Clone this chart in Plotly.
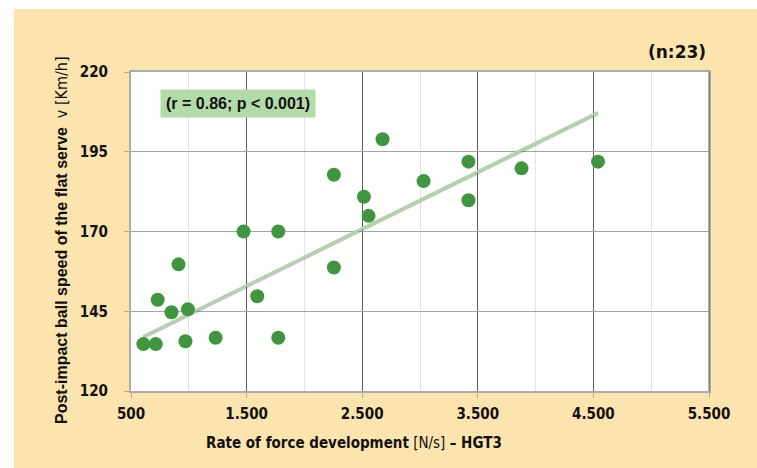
import plotly.graph_objects as go

# Rate of force development (N/s) and post-impact ball speed (km/h)
rfd = [607, 714, 731, 850, 911, 971, 992, 1232, 1474, 1592, 1774, 1774,
       2255, 2255, 2515, 2555, 2676, 3031, 3419, 3419, 3878, 4540]
speed = [134.7, 134.7, 148.6, 144.7, 159.7, 135.6, 145.6, 136.7, 170.0, 149.7, 170.0, 136.7,
         187.8, 158.7, 180.9, 174.9, 198.9, 185.8, 191.9, 179.8, 189.8, 191.9]

# Linear trend line end points
trend_x = [607, 4540]
trend_y = [137.2, 207.4]

x_tickvals = [500, 1500, 2500, 3500, 4500, 5500]
x_ticktext = ["500", "1.500", "2.500", "3.500", "4.500", "5.500"]
x_minor = [1000, 2000, 3000, 4000, 5000]
y_tickvals = [120, 145, 170, 195, 220]
y_ticktext = ["120", "145", "170", "195", "220"]

stat_text = "(r = 0.86; p < 0.001)"
n_text = "(n:23)"

BG = "#FCE4AE"
GREEN = "#3f963f"
NARROW = "Liberation Sans Narrow, Arial Narrow, DejaVu Sans Condensed, sans-serif"
ARIAL = "Liberation Sans, Arial, sans-serif"

fig = go.Figure()

# soft shadow under the trend line
fig.add_trace(go.Scatter(
    x=trend_x, y=[v - 0.45 for v in trend_y], mode="lines",
    line=dict(color="rgba(90,90,90,0.35)", width=3),
    hoverinfo="skip", showlegend=False))
fig.add_trace(go.Scatter(
    x=trend_x, y=trend_y, mode="lines",
    line=dict(color="#acd6a3", width=2.6),
    hoverinfo="skip", showlegend=False))
fig.add_trace(go.Scatter(
    x=rfd, y=speed, mode="markers",
    marker=dict(color=GREEN, size=14, line=dict(width=0)),
    showlegend=False))

tick_font = dict(family=NARROW, size=15, color="#111111", weight="bold")

fig.update_layout(
    width=757, height=468,
    margin=dict(l=131, r=48, t=72, b=77),
    paper_bgcolor=BG, plot_bgcolor="white",
    showlegend=False,
    xaxis=dict(
        range=[500, 5500], tickmode="array",
        tickvals=x_tickvals, ticktext=x_ticktext,
        showgrid=True, gridcolor="#5c5c5c", gridwidth=1,
        minor=dict(tickmode="array", tickvals=x_minor, showgrid=True,
                   gridcolor="#e2e2e2", gridwidth=1, ticks=""),
        showline=True, linecolor="#ababab", linewidth=2, mirror=True,
        ticks="outside", ticklen=5, tickcolor="#ababab", tickwidth=1,
        tickfont=tick_font, ticklabelstandoff=3,
        zeroline=False, fixedrange=True,
    ),
    yaxis=dict(
        range=[120, 220], tickmode="array",
        tickvals=y_tickvals, ticktext=y_ticktext,
        showgrid=True, gridcolor="#a3a3a3", gridwidth=1.3,
        showline=True, linecolor="#ababab", linewidth=2, mirror=True,
        ticks="outside", ticklen=5, tickcolor="#ababab", tickwidth=1,
        tickfont=tick_font,
        ticklabelstandoff=13,
        zeroline=False, fixedrange=True,
    ),
    shapes=[
        # white strips framing the coloured panel
        dict(type="rect", xref="paper", yref="paper",
             x0=-0.3, x1=(14 - 131) / 578, y0=-0.5, y1=1.5,
             fillcolor="white", line=dict(width=0), layer="below"),
        dict(type="rect", xref="paper", yref="paper",
             x0=-0.3, x1=1.5, y0=(391 - 9) / 319, y1=1.5,
             fillcolor="white", line=dict(width=0), layer="below"),
        # right border coincides with a major grid line
        dict(type="line", xref="paper", yref="paper", x0=1, x1=1, y0=0, y1=1,
             line=dict(color="#5c5c5c", width=1)),
    ],
    annotations=[
        dict(x=1425, y=210.2, xref="x", yref="y", text="<b>" + stat_text + "</b>",
             showarrow=False, bgcolor="#b3dba8", borderpad=5,
             xanchor="center", yanchor="middle",
             font=dict(family=ARIAL, size=16, color="#111111")),
        dict(x=(677 - 131) / 578, y=(391 - 52) / 319, xref="paper", yref="paper",
             text="<b>" + n_text + "</b>", showarrow=False,
             xanchor="center", yanchor="middle",
             font=dict(family="DejaVu Sans", size=17, color="#111111")),
        dict(x=(353.5 - 131) / 578, y=(391 - 443) / 319, xref="paper", yref="paper",
             text="<b>Rate of force development</b> [N/s] <b>– HGT3</b>",
             showarrow=False, xanchor="center", yanchor="middle",
             font=dict(family=NARROW, size=15, color="#111111")),
        dict(x=(61 - 131) / 578, y=(391 - 240) / 319, xref="paper", yref="paper",
             text="<b>Post-impact ball speed of the flat serve</b>  "
                  "<span style='font-family:" + NARROW + "'>v [Km/h]</span>",
             textangle=-90, showarrow=False, xanchor="center", yanchor="middle",
             font=dict(family=ARIAL, size=16, color="#111111")),
    ],
)

fig.write_html("out.html")
